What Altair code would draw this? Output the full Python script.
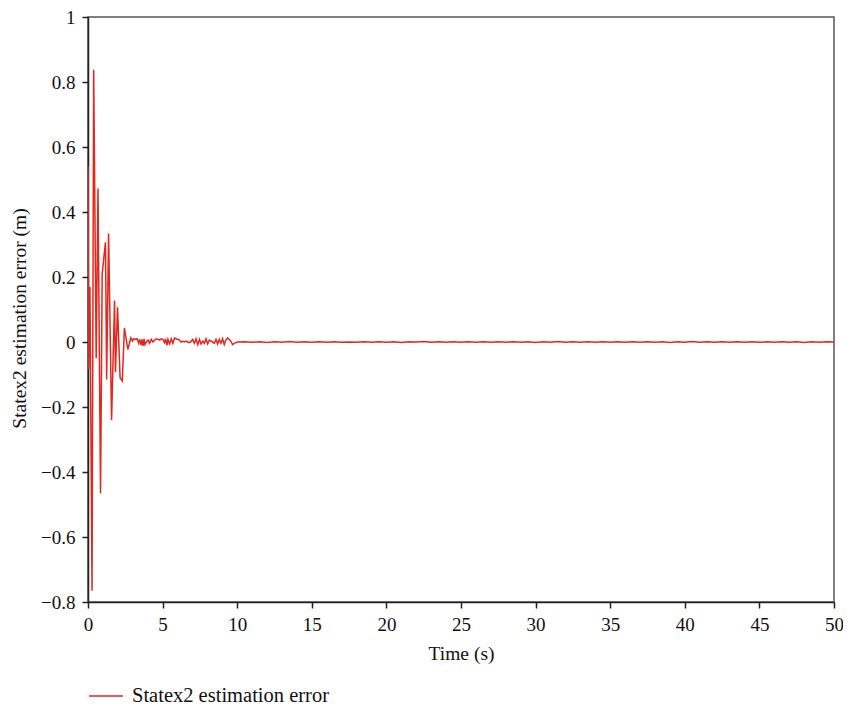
import altair as alt
import pandas as pd

SERIES = "Statex2 estimation error"

# early transient (0 - 2.7 s)
t_early = [0, 0.05, 0.13, 0.27, 0.38, 0.55, 0.67, 0.84, 0.95, 1.17, 1.25, 1.38,
           1.58, 1.78, 1.84, 1.98, 2.15, 2.30, 2.44, 2.67]
v_early = [0.54, -0.083, 0.17, -0.765, 0.838, -0.05, 0.472, -0.465, 0.21, 0.307,
           -0.115, 0.334, -0.24, 0.128, -0.093, 0.107, -0.11, -0.12, 0.043, -0.023]

# small oscillation (2.9 - 10 s)
t_mid = [2.87, 2.98, 3.07, 3.18, 3.29, 3.40, 3.47, 3.56, 3.62, 3.69, 3.76, 3.82,
         3.91, 4.02, 4.13, 4.24, 4.36, 4.47, 4.58, 4.69, 4.80, 4.91, 5.02, 5.13,
         5.20, 5.29, 5.36, 5.47, 5.58, 5.69, 5.80, 5.91, 6.02, 6.13, 6.24, 6.36,
         6.47, 6.58, 6.69, 6.80, 6.91, 7.02, 7.13, 7.24, 7.36, 7.47, 7.58, 7.69,
         7.80, 7.91, 8.02, 8.13, 8.24, 8.36, 8.47, 8.58, 8.69, 8.80, 8.91, 9.02,
         9.13, 9.24, 9.36, 9.47, 9.58, 9.69, 9.80, 9.91, 10.02]
v_mid = [0.013, 0.003, 0.010, 0.008, 0.010, -0.004, 0.008, -0.010, 0.008, -0.012,
         0.010, -0.008, 0.0, 0.006, -0.004, 0.008, 0.0, 0.006, 0.010, 0.008,
         0.006, 0.010, 0.008, -0.002, 0.010, -0.010, 0.008, -0.006, 0.010, -0.004,
         0.012, 0.010, 0.008, 0.006, 0.0, 0.002, 0.0, 0.003, 0.0, -0.002,
         0.002, 0.008, -0.004, 0.010, -0.008, 0.008, -0.006, 0.003, -0.004, 0.010,
         -0.006, 0.006, 0.003, 0.0, -0.004, 0.008, -0.006, 0.008, -0.004, 0.010,
         -0.008, 0.006, 0.013, 0.008, 0.002, -0.008, -0.004, -0.002, 0.0]

# settled (10.5 - 50 s)
t_late = [10.5, 11.0, 11.5, 12.0, 12.5, 13.0, 13.5, 14.0, 14.5, 15.0,
          15.5, 16.0, 16.5, 17.0, 17.5, 18.0, 18.5, 19.0, 19.5, 20.0,
          20.5, 21.0, 21.5, 22.0, 22.5, 23.0, 23.5, 24.0, 24.5, 25.0,
          25.5, 26.0, 26.5, 27.0, 27.5, 28.0, 28.5, 29.0, 29.5, 30.0,
          30.5, 31.0, 31.5, 32.0, 32.5, 33.0, 33.5, 34.0, 34.5, 35.0,
          35.5, 36.0, 36.5, 37.0, 37.5, 38.0, 38.5, 39.0, 39.5, 40.0,
          40.5, 41.0, 41.5, 42.0, 42.5, 43.0, 43.5, 44.0, 44.5, 45.0,
          45.5, 46.0, 46.5, 47.0, 47.5, 48.0, 48.5, 49.0, 49.5, 50.0]
v_late = [0.001, -0.001, 0.0005, -0.0012, 0.0008, -0.0005, 0.0012, -0.0008, 0.0004, -0.001,
          0.0009, -0.0006, 0.0011, -0.0009, 0.0003, -0.0011, 0.0007, -0.0004, 0.001, -0.0007,
          0.0006, -0.0012, 0.0009, -0.0003, 0.0012, -0.0009, 0.0005, -0.001, 0.0008, -0.0006,
          0.0011, -0.0008, 0.0004, -0.0011, 0.0009, -0.0005, 0.001, -0.0007, 0.0006, -0.0012,
          0.0008, -0.0004, 0.0012, -0.0009, 0.0005, -0.001, 0.0007, -0.0006, 0.0011, -0.0008,
          0.0004, -0.0011, 0.0009, -0.0005, 0.001, -0.0007, 0.0006, -0.0012, 0.0008, -0.0004,
          0.0012, -0.0009, 0.0005, -0.001, 0.0007, -0.0006, 0.0011, -0.0008, 0.0004, -0.0011,
          0.0009, -0.0005, 0.001, -0.0007, 0.0006, -0.0012, 0.0008, -0.0004, 0.001, 0.0]

x_ticks = [0, 5, 10, 15, 20, 25, 30, 35, 40, 45, 50]
y_ticks = [-0.8, -0.6, -0.4, -0.2, 0, 0.2, 0.4, 0.6, 0.8, 1]

df = pd.DataFrame({
    "t": t_early + t_mid + t_late,
    "v": v_early + v_mid + v_late,
})
df["series"] = SERIES

FONT = "Liberation Serif"

chart = alt.Chart(df).mark_line(strokeWidth=1.5, clip=True).encode(
    x=alt.X("t:Q",
            scale=alt.Scale(domain=[0, 50], nice=False, zero=False),
            axis=alt.Axis(values=x_ticks, title="Time (s)", format="~g",
                          labelFlush=False, labelOverlap=False,
                          titleY=42, titleBaseline="top")),
    y=alt.Y("v:Q",
            scale=alt.Scale(domain=[-0.8, 1], nice=False, zero=False),
            axis=alt.Axis(values=y_ticks, title="Statex2 estimation error (m)", format="~g",
                          labelFlush=False, labelOverlap=False,
                          titleX=-69, titleY=301, titleBaseline="middle")),
    color=alt.Color("series:N",
                    scale=alt.Scale(domain=[SERIES], range=["#e2271e"]),
                    legend=alt.Legend(title=None, orient="none", legendX=0, legendY=661,
                                      symbolType="stroke", symbolSize=1156,
                                      symbolStrokeWidth=1.5, labelOffset=8,
                                      labelLimit=0,
                                      labelFont=FONT, labelFontSize=20.5,
                                      labelColor="#111", padding=0)),
).properties(
    width=746,
    height=585,
    padding={"left": 80, "top": 9, "right": 9, "bottom": 110},
    autosize=alt.AutoSizeParams(type="none"),
).configure_view(
    stroke="#555", strokeWidth=1.5
).configure_axis(
    grid=False,
    domainColor="#222", domainWidth=1.5,
    tickColor="#222", tickWidth=1.5, tickSize=6,
    labelFont=FONT, labelFontSize=19, labelColor="#111", labelPadding=7,
    titleFont=FONT, titleFontSize=19.5, titleColor="#111", titleFontWeight="normal",
)

chart.save("out.html", embed_options={"renderer": "svg", "actions": False})
